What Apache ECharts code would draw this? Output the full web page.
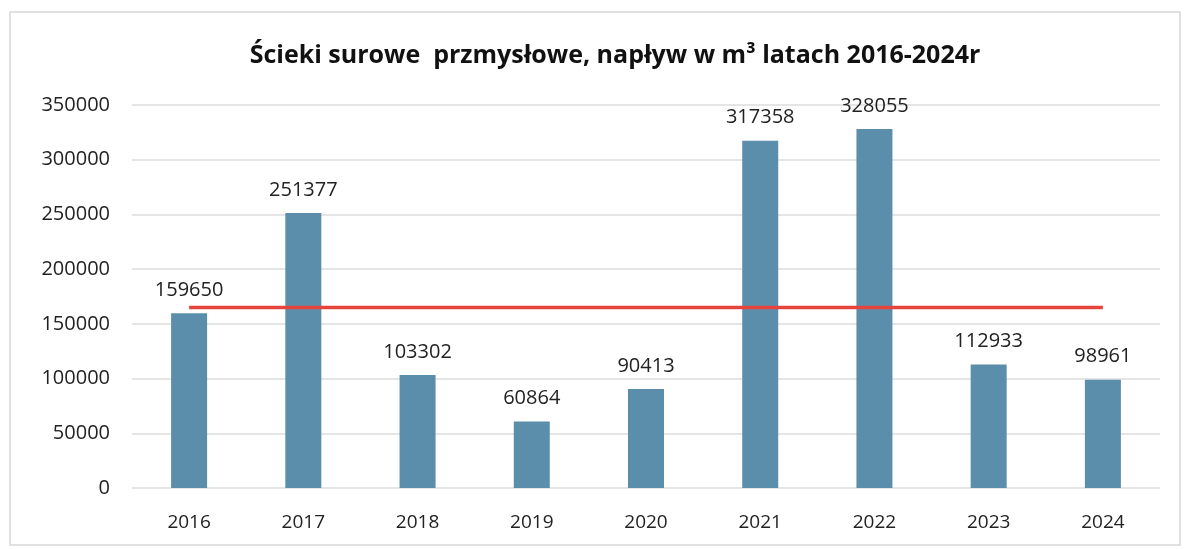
<!DOCTYPE html>
<html>
<head>
<meta charset="utf-8">
<script src="https://cdn.jsdelivr.net/npm/echarts@6/dist/echarts.min.js"></script>
<style>
  html, body { margin: 0; padding: 0; background: #fff; }
  #main { width: 1191px; height: 549px; }
</style>
</head>
<body>
<div id="main"></div>
<script>
var years = ["2016", "2017", "2018", "2019", "2020", "2021", "2022", "2023", "2024"];
var inflow = [159650, 251377, 103302, 60864, 90413, 317358, 328055, 112933, 98961];
// red reference line
var refLine = [165000, 165000, 165000, 165000, 165000, 165000, 165000, 165000, 165000];
var yTicks = [0, 50000, 100000, 150000, 200000, 250000, 300000, 350000];

var chart = echarts.init(document.getElementById("main"));
var option = {
  animation: false,
  title: {
    text: "Ścieki surowe  przmysłowe, napływ w m³ latach 2016-2024r",
    left: 610,
    textAlign: "center",
    top: 38,
    textStyle: { fontFamily: "Open Sans", fontWeight: "bold", fontSize: 25, color: "#111" }
  },
  graphic: [{
    type: "rect",
    shape: { x: 10, y: 12, width: 1170, height: 533 },
    style: { fill: "none", stroke: "#d8d8d8", lineWidth: 1.5 }
  }],
  grid: { left: 132, right: 31, top: 105, bottom: 61 },
  xAxis: {
    type: "category",
    data: years,
    axisLine: { show: false },
    axisTick: { show: false },
    axisLabel: { fontFamily: "Open Sans", fontSize: 19, color: "#222", margin: 25 }
  },
  yAxis: {
    type: "value",
    min: yTicks[0],
    max: yTicks[yTicks.length - 1],
    interval: 50000,
    axisLine: { show: false },
    axisTick: { show: false },
    splitLine: { lineStyle: { color: "#dcdcdc", width: 1.5 } },
    axisLabel: {
      fontFamily: "Open Sans", fontSize: 20, color: "#222", margin: 22,
      formatter: function (v) { return String(v); }
    }
  },
  series: [{
    type: "bar",
    data: inflow,
    barWidth: 36,
    itemStyle: { color: "#5b8eaa" },
    label: {
      show: true,
      position: "top",
      distance: 13,
      fontFamily: "Open Sans",
      fontSize: 20,
      color: "#222"
    }
  }, {
    type: "line",
    data: refLine,
    symbol: "none",
    lineStyle: { color: "#e5453c", width: 3.5 },
    z: 3
  }]
};
chart.setOption(option);
</script>
</body>
</html>
